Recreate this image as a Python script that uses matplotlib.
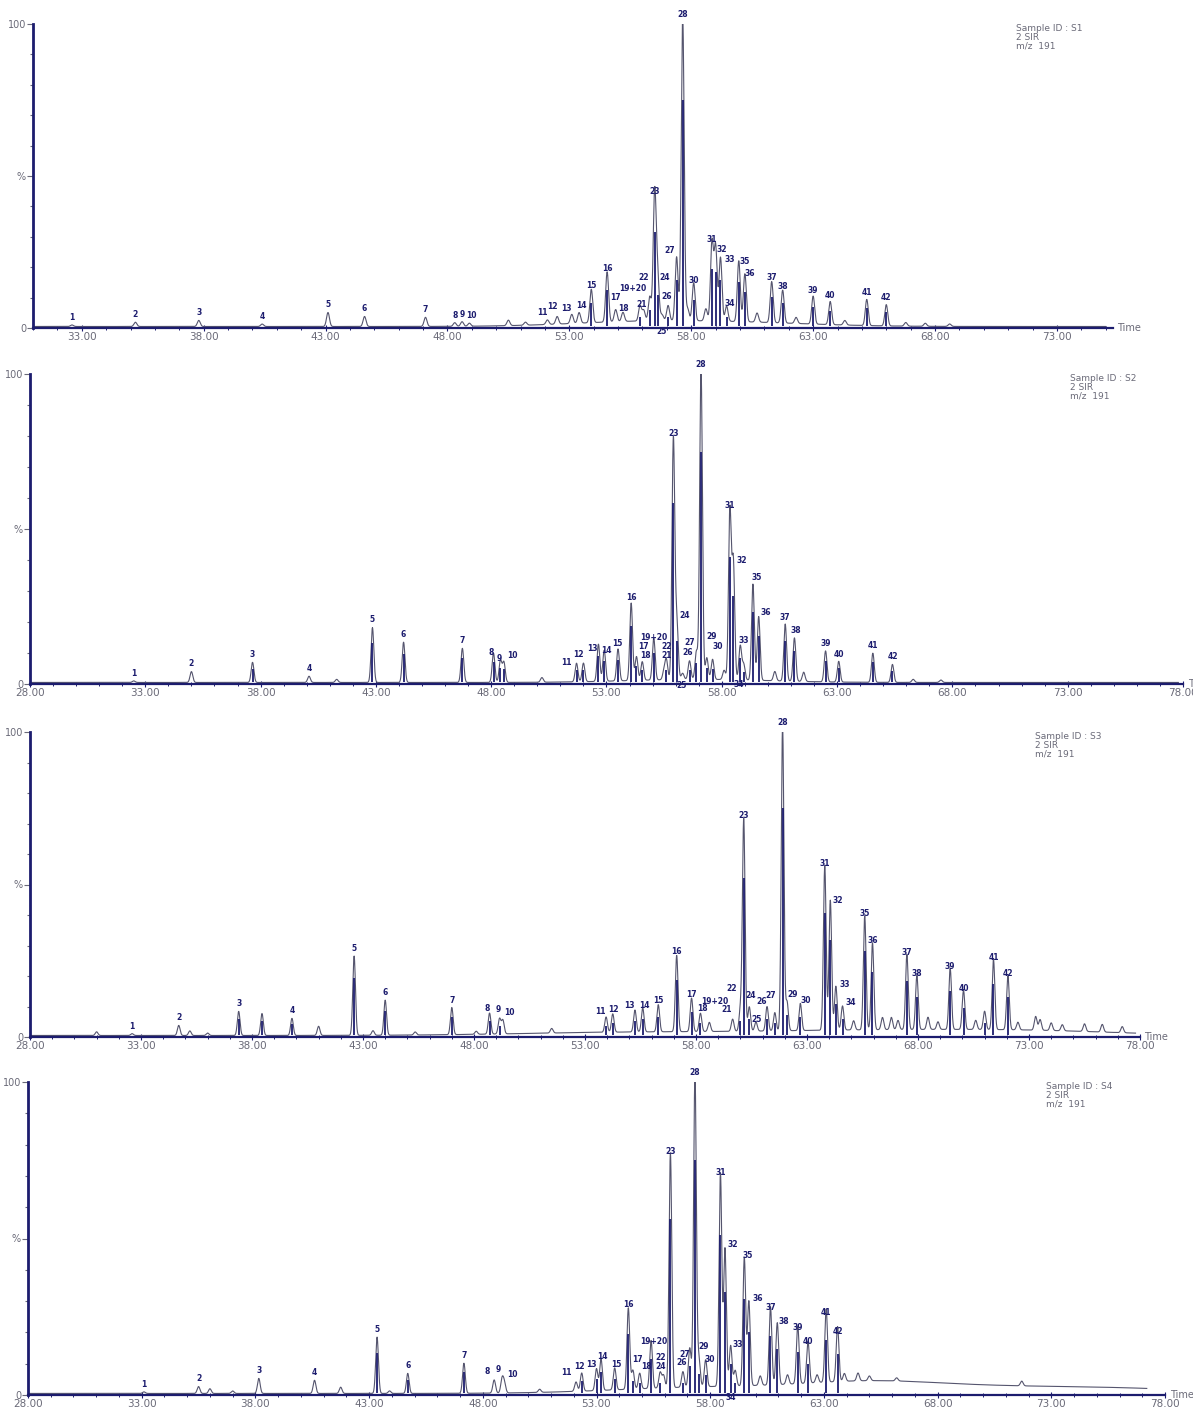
import numpy as np
import matplotlib.pyplot as plt
from matplotlib.ticker import MultipleLocator, FixedLocator

# ---- peak data (retention time in min, relative abundance %) ----
s1_time = [32.6, 35.2, 37.8, 40.4, 43.1, 44.6, 47.1, 48.3, 48.6, 48.9, 50.5, 51.2, 52.1, 52.5, 53.1,
           53.4, 53.9, 54.55, 54.9, 55.2, 55.9, 56.05, 56.3, 56.5, 56.62, 56.8, 57.05, 57.4, 57.65,
           57.85, 58.1, 58.6, 58.85, 59.0, 59.2, 59.45, 59.95, 60.2, 60.7, 61.3, 61.75, 62.3, 63.0,
           63.7, 64.3, 65.2, 66.0, 66.8, 67.6, 68.6]
s1_height = [0.5, 1.4, 2.0, 0.8, 4.6, 3.3, 3.0, 1.2, 1.5, 1.0, 1.8, 1.0, 1.5, 2.5, 3.0,
             3.5, 11.0, 16.5, 4.0, 3.0, 5.0, 3.5, 8.0, 42.0, 14.5, 2.0, 5.0, 21.0, 100.0,
             4.0, 12.5, 4.0, 26.0, 24.5, 21.0, 5.0, 20.0, 15.8, 3.0, 13.5, 10.8, 2.0, 9.2,
             7.6, 1.5, 8.6, 7.0, 1.2, 1.0, 0.8]
s1_label = ["1", "2", "3", "4", "5", "6", "7", "8", "9", "10", "", "", "11", "12", "13",
            "14", "15", "16", "17", "18", "19+20", "21", "22", "23", "24", "25", "26", "27", "28",
            "", "30", "", "31", "32", "33", "34", "35", "36", "", "37", "38", "", "39",
            "40", "", "41", "42", "", "", ""]

s2_time = [32.5, 35.0, 37.65, 40.1, 41.3, 42.85, 44.2, 46.75, 48.1, 48.4, 48.55, 50.2, 51.7, 52.0,
           52.65, 52.9, 53.5, 54.07, 54.3, 54.55, 55.05, 55.5, 55.6, 55.9, 56.05, 56.3, 56.6, 56.9,
           57.1, 57.35, 57.6, 58.1, 58.35, 58.5, 58.8, 58.95, 59.35, 59.6, 60.3, 60.75, 61.15,
           61.55, 62.5, 63.07, 64.55, 65.4, 66.3, 67.5]
s2_height = [0.5, 3.5, 6.5, 2.0, 1.0, 17.7, 13.0, 11.0, 9.4, 7.0, 6.5, 1.5, 6.0, 6.0,
             12.0, 10.0, 10.3, 25.0, 7.7, 6.0, 13.5, 3.0, 6.0, 77.7, 18.4, 2.0, 6.0, 9.0,
             100.0, 7.0, 6.5, 3.0, 54.5, 37.7, 11.0, 5.0, 31.0, 20.6, 3.0, 18.4, 14.0,
             3.0, 10.0, 6.7, 9.4, 5.8, 1.0, 0.8]
s2_label = ["1", "2", "3", "4", "", "5", "6", "7", "8", "9", "10", "", "11", "12",
            "13", "14", "15", "16", "17", "18", "19+20", "21", "22", "23", "24", "25", "26", "27",
            "28", "29", "30", "", "31", "32", "33", "34", "35", "36", "", "37", "38",
            "", "39", "40", "41", "42", "", ""]

s3_time = [31.0, 32.6, 34.7, 35.2, 36.0, 37.4, 38.45, 39.8, 41.0, 42.6, 43.45, 44.0, 45.35, 47.0,
           48.1, 48.7, 49.15, 49.3, 51.5, 53.95, 54.25, 55.25, 55.6, 56.3, 57.13, 57.8, 58.2,
           58.6, 59.65, 60.0, 60.15, 60.4, 60.7, 61.2, 61.55, 61.9, 62.1, 62.7, 63.8, 64.05,
           64.3, 64.6, 65.1, 65.6, 65.95, 66.4, 66.8, 67.1, 67.5, 67.95, 68.45, 68.9, 69.45,
           70.05, 70.6, 71.0, 71.4, 72.05, 72.5, 73.3, 73.5, 74.0, 74.5, 75.5, 76.3, 77.2]
s3_height = [1.2, 0.6, 3.3, 1.5, 0.8, 7.9, 7.2, 5.6, 3.0, 26.0, 1.5, 11.5, 1.0, 8.9,
             1.0, 6.9, 5.0, 4.5, 1.5, 5.0, 6.0, 7.2, 7.9, 8.9, 25.0, 11.0, 6.0,
             3.0, 4.0, 7.0, 69.5, 8.0, 3.0, 8.0, 6.0, 100.0, 9.5, 8.9, 54.0, 42.6,
             14.4, 7.9, 3.0, 37.4, 28.5, 4.0, 4.0, 3.0, 24.6, 17.7, 4.0, 2.5, 20.0,
             12.8, 3.0, 6.0, 23.0, 17.7, 2.5, 4.5, 3.5, 2.5, 2.0, 2.5, 2.5, 2.0]
s3_label = ["", "1", "2", "", "", "3", "", "4", "", "5", "", "6", "", "7",
            "", "8", "9", "10", "", "11", "12", "13", "14", "15", "16", "17", "18",
            "19+20", "21", "22", "23", "24", "25", "26", "27", "28", "29", "30", "31", "32",
            "33", "34", "", "35", "36", "", "", "", "37", "38", "", "", "39",
            "40", "", "", "41", "42", "", "", "", "", "", "", "", ""]

s4_time = [33.1, 35.5, 36.0, 37.0, 38.15, 40.6, 41.75, 43.35, 43.9, 44.7, 47.17, 48.5, 48.85, 48.95,
           50.5, 52.1, 52.35, 53.0, 53.2, 53.8, 54.4, 54.6, 54.9, 55.4, 55.8, 55.95, 56.25, 56.8,
           57.1, 57.33, 57.5, 57.8, 58.45, 58.65, 58.9, 59.1, 59.5, 59.7, 60.2, 60.65, 60.95,
           61.4, 61.85, 62.3, 62.7, 63.1, 63.6, 63.9, 64.5, 65.0, 66.2, 71.7]
s4_height = [0.5, 2.2, 1.5, 0.8, 4.8, 4.2, 2.0, 18.0, 0.8, 6.4, 9.6, 4.2, 4.5, 3.0,
             1.0, 3.0, 5.8, 7.0, 10.0, 7.0, 26.0, 6.0, 5.0, 15.3, 5.0, 4.0, 75.0, 5.0,
             12.5, 100.0, 9.0, 8.6, 68.0, 44.0, 13.0, 5.0, 41.0, 27.0, 3.0, 25.0, 19.8,
             3.0, 18.5, 13.4, 2.5, 23.3, 17.6, 2.5, 2.5, 1.5, 1.0, 1.5]
s4_label = ["1", "2", "", "", "3", "4", "", "5", "", "6", "7", "8", "9", "10",
            "", "11", "12", "13", "14", "15", "16", "17", "18", "19+20", "22", "24", "23", "26",
            "27", "28", "29", "30", "31", "32", "33", "34", "35", "36", "", "37", "38",
            "", "39", "40", "", "41", "42", "", "", "", "", ""]

# broad baseline humps (centre, height %, width min)
s1_hump = [(56.0, 1.5, 3.0), (60.5, 1.0, 3.0)]
s2_hump = [(57.0, 1.0, 3.0)]
s3_hump = [(55.0, 1.0, 5.0), (66.0, 1.6, 5.0), (73.5, 1.2, 4.0)]
s4_hump = [(58.0, 2.0, 4.0), (65.0, 3.0, 3.0), (71.0, 2.0, 4.0), (77.0, 1.0, 3.0)]

sample_ids = ["S1", "S2", "S3", "S4"]

# ---- layout (pixels in the 1193x1408 figure) ----
W, H = 1193, 1408
# left, right, top (100%), bottom (0%), xmin, xmax, trace end
panel_box = [
    (33, 1113, 24, 328, 31.0, 75.3, 75.0),
    (30, 1183, 374, 684, 28.0, 78.0, 77.8),
    (30, 1140, 732, 1037, 28.0, 78.0, 77.8),
    (28, 1165, 1082, 1395, 28.0, 78.0, 77.2),
]
sample_x = [0.91, 0.902, 0.905, 0.895]

# label placement for crowded clusters: label -> (time, y%)
label_pos = [
    {"8": (48.3, 2.5), "9": (48.6, 3.0), "10": (49.0, 2.5), "11": (51.9, 3.5), "12": (52.3, 5.5),
     "13": (52.9, 5.0), "14": (53.5, 6.0), "17": (54.9, 8.5), "18": (55.2, 5.0),
     "19+20": (55.6, 11.5), "21": (55.95, 6.2), "22": (56.05, 15.0), "24": (56.9, 15.0),
     "25": (56.8, -1.0), "26": (57.0, 9.0), "27": (57.1, 24.0), "32": (59.25, 24.5),
     "33": (59.6, 21.0), "34": (59.6, 6.5), "35": (60.2, 20.5), "36": (60.4, 16.5)},
    {"8": (48.0, 8.7), "9": (48.35, 6.8), "10": (48.9, 7.7), "11": (51.25, 5.5), "12": (51.8, 8.0),
     "13": (52.37, 10.0), "14": (52.98, 9.5), "15": (53.45, 11.5), "17": (54.6, 10.5),
     "18": (54.7, 7.8), "19+20": (55.06, 13.5), "21": (55.6, 7.8), "22": (55.6, 10.5),
     "24": (56.4, 20.5), "25": (56.27, -0.5), "26": (56.5, 8.8), "27": (56.6, 12.0),
     "29": (57.57, 14.0), "30": (57.83, 10.5), "32": (58.87, 38.5), "33": (58.95, 12.5),
     "34": (58.75, -0.3), "35": (59.5, 33.0), "36": (59.9, 21.5), "38": (61.2, 15.8)},
    {"8": (48.6, 8.0), "9": (49.1, 7.4), "10": (49.6, 6.7), "11": (53.7, 7.0), "12": (54.3, 7.4),
     "13": (55.0, 9.0), "14": (55.66, 9.0), "18": (58.3, 8.0), "19+20": (58.86, 10.3),
     "21": (59.4, 7.4), "22": (59.6, 14.3), "24": (60.45, 12.2), "25": (60.75, 4.2),
     "26": (60.95, 10.0), "27": (61.38, 12.2), "29": (62.37, 12.6), "30": (62.95, 10.6),
     "32": (64.4, 43.4), "33": (64.7, 15.9), "34": (64.98, 9.7)},
    {"8": (48.2, 6.0), "9": (48.7, 6.6), "10": (49.3, 5.0), "11": (51.66, 5.6), "12": (52.23, 7.6),
     "13": (52.76, 8.2), "14": (53.24, 10.8), "15": (53.86, 8.2), "17": (54.78, 10.0),
     "18": (55.2, 7.8), "19+20": (55.5, 15.8), "22": (55.8, 10.4), "24": (55.8, 7.8),
     "26": (56.76, 8.8), "27": (56.9, 11.6), "29": (57.7, 14.2), "30": (57.98, 10.0),
     "32": (59.0, 46.5), "33": (59.2, 14.8), "34": (58.9, -0.8), "35": (59.66, 43.0),
     "36": (60.1, 29.5), "38": (61.25, 22.0), "40": (62.3, 15.5), "42": (63.6, 19.0)},
]

NAVY = "#1c1c6e"
TRACE = "#55556e"
GREY = "#6a6a78"


def build_trace(t, times, heights, humps, width=0.06):
    """피크 목록으로 크로마토그램 신호 생성"""
    y = np.full_like(t, 0.5)
    for c, h in zip(times, heights):
        y += h * np.exp(-0.5 * ((t - c) / width) ** 2)
    for c, h, w in humps:
        y += h * np.exp(-0.5 * ((t - c) / w) ** 2)
    return y


def draw_panel(ax, box, times, heights, labels, humps, sid, lpos, sx):
    left, right, top, bottom, xmin, xmax, tend = box
    t = np.arange(xmin + 0.05, tend, 0.004)
    y = build_trace(t, times, heights, humps)
    ax.plot(t, y, color=TRACE, lw=0.8)

    # dark centre stroke of the larger peaks
    big = [(c, h) for c, h in zip(times, heights) if h >= 5]
    ax.vlines([c for c, _ in big], 0.5, [0.75 * h for _, h in big], color=NAVY, lw=1.3)

    for c, h, lab in zip(times, heights, labels):
        if not lab:
            continue
        if lab in lpos:
            lx, ly = lpos[lab]
        else:
            lx, ly = c, h + 1.5
        va = "center" if ly < 0 else "bottom"
        ax.text(lx, ly, lab, ha="center", va=va, fontsize=5.5, fontweight="bold",
                color=NAVY, clip_on=False)

    ax.set_xlim(xmin, xmax)
    ax.set_ylim(0, 100)
    for s in ["top", "right"]:
        ax.spines[s].set_visible(False)
    ax.spines["left"].set_color(NAVY)
    ax.spines["left"].set_linewidth(2.0)
    ax.spines["bottom"].set_color(NAVY)
    ax.spines["bottom"].set_linewidth(1.6)

    ax.yaxis.set_major_locator(FixedLocator([0, 50, 100]))
    ax.set_yticklabels(["0", "%", "100"])
    ax.yaxis.set_minor_locator(MultipleLocator(10))
    ax.tick_params(axis="y", which="major", length=4, width=0.8, color=GREY,
                   labelsize=7, labelcolor=GREY, pad=1)
    ax.tick_params(axis="y", which="minor", length=2, width=0.8, color=GREY)

    ax.xaxis.set_major_locator(FixedLocator(np.arange(28, 79, 5)))
    ax.xaxis.set_minor_locator(MultipleLocator(1))
    ax.xaxis.set_major_formatter(lambda v, p: f"{v:.2f}")
    ax.tick_params(axis="x", which="major", direction="inout", length=5, width=0.8,
                   color=NAVY, labelsize=7.5, labelcolor=GREY, pad=0.5)
    ax.tick_params(axis="x", which="minor", direction="inout", length=3, width=0.7, color=NAVY)

    ax.text(1.004, 0, "Time", transform=ax.transAxes, ha="left", va="center",
            fontsize=7, color=GREY, clip_on=False)
    ax.text(sx, 1.0, f"Sample ID : {sid}\n2 SIR\nm/z  191", transform=ax.transAxes,
            ha="left", va="top", fontsize=6.5, color=GREY, linespacing=0.95)


fig = plt.figure(figsize=(W / 100, H / 100), dpi=100)
data = [
    (s1_time, s1_height, s1_label, s1_hump),
    (s2_time, s2_height, s2_label, s2_hump),
    (s3_time, s3_height, s3_label, s3_hump),
    (s4_time, s4_height, s4_label, s4_hump),
]
for i, (box, d) in enumerate(zip(panel_box, data)):
    left, right, top, bottom = box[:4]
    ax = fig.add_axes([left / W, 1 - bottom / H, (right - left) / W, (bottom - top) / H])
    draw_panel(ax, box, *d, sample_ids[i], label_pos[i], sample_x[i])

fig.savefig("out.png", dpi=100)
